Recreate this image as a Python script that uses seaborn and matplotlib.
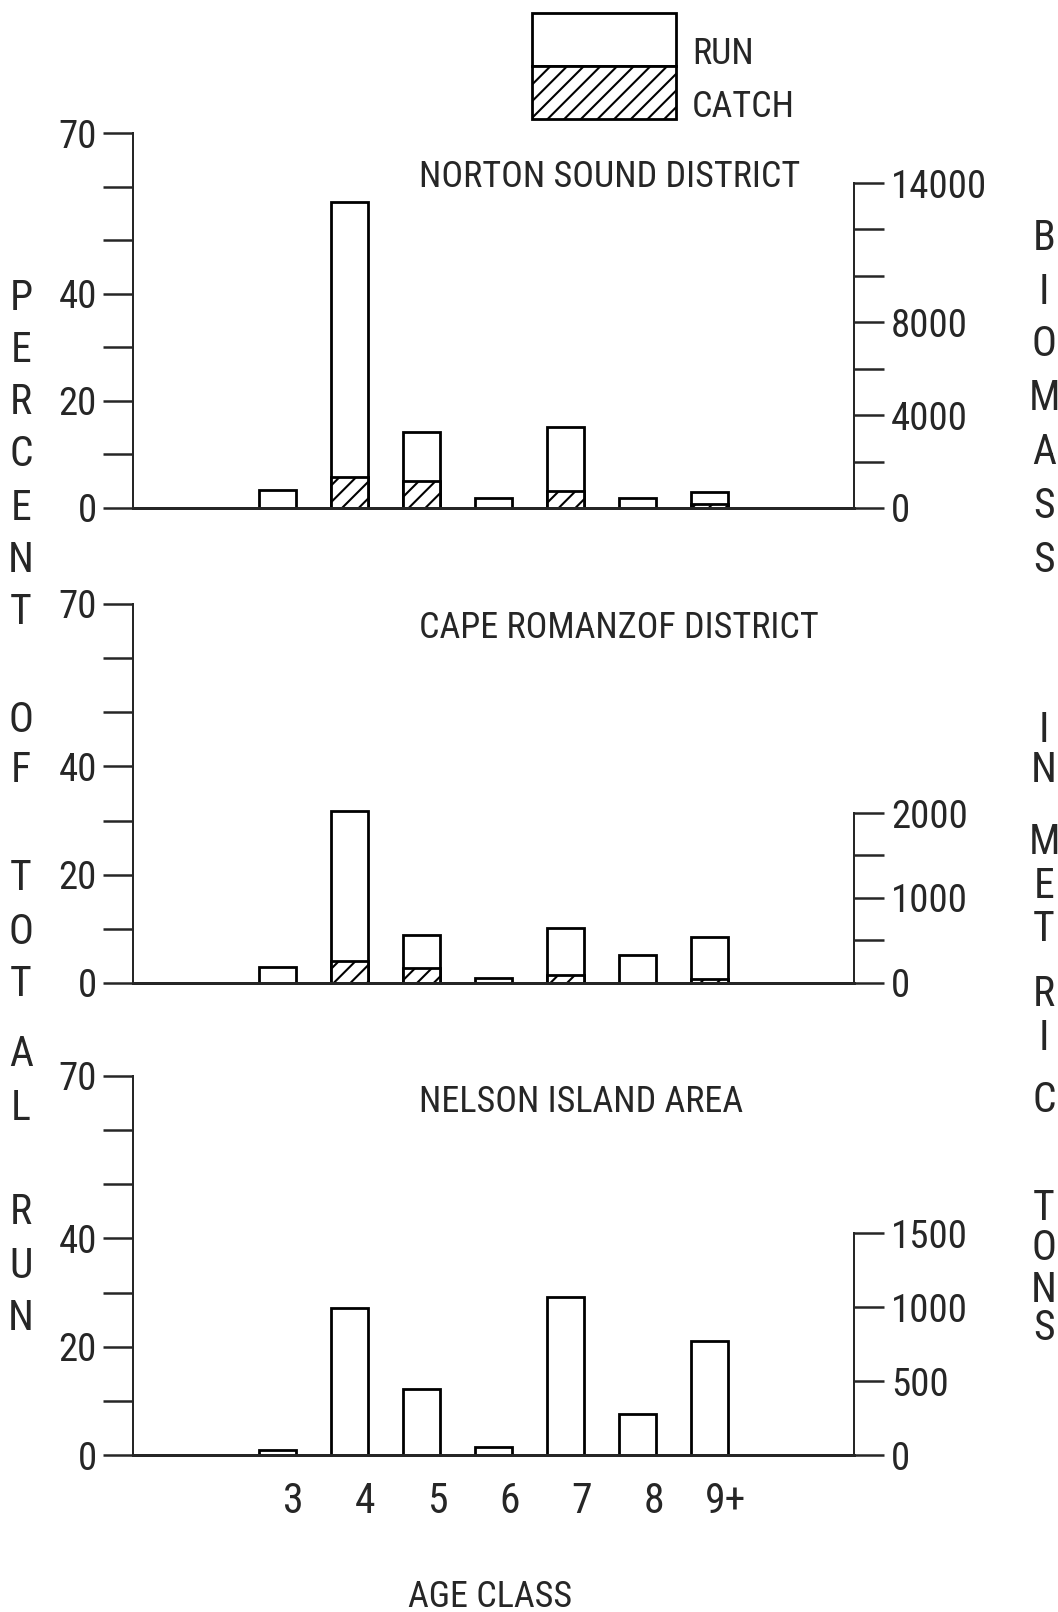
import numpy as np
import pandas as pd
import matplotlib
matplotlib.use("Agg")
import matplotlib.pyplot as plt
import matplotlib.transforms as mtransforms
from matplotlib.patches import Patch, Rectangle
from matplotlib.legend_handler import HandlerPatch
from matplotlib import font_manager
import seaborn as sns

# Donnees (pourcentage du total de la remonte)
ages = ["3", "4", "5", "6", "7", "8", "9+"]
norton_run = [3.4, 57.1, 14.2, 1.9, 15.1, 1.9, 3.0]
norton_catch = [0, 5.8, 5.0, 0, 3.2, 0, 0.7]
cape_run = [3.0, 31.8, 8.9, 0.9, 10.2, 5.2, 8.5]
cape_catch = [0, 4.1, 2.8, 0, 1.5, 0, 0.7]
nelson_run = [0.9, 27.2, 12.2, 1.4, 29.1, 7.6, 21.1]
districts = ["NORTON SOUND DISTRICT", "CAPE ROMANZOF DISTRICT", "NELSON ISLAND AREA"]

pct_ticks = [0, 10, 20, 30, 40, 50, 60, 70]
pct_labels = ["0", "", "20", "", "40", "", "", "70"]
norton_bio_ticks = [0, 2000, 4000, 6000, 8000, 10000, 12000, 14000]
norton_bio_labels = ["0", "", "4000", "", "8000", "", "", "14000"]
cape_bio_ticks = [0, 500, 1000, 1500, 2000]
cape_bio_labels = ["0", "", "1000", "", "2000"]
nelson_bio_ticks = [0, 500, 1000, 1500]
nelson_bio_labels = ["0", "500", "1000", "1500"]

left_title = "PERCENT OF TOTAL RUN"
right_title = "BIOMASS IN METRIC TONS"

# police etroite si disponible
noms = {f.name for f in font_manager.fontManager.ttflist}
sns.set_style("white")
police = "DejaVu Sans"
for cand in ["Liberation Sans Narrow", "Roboto Condensed", "Open Sans Condensed"]:
    if cand in noms:
        police = cand
        break
plt.rcParams["font.family"] = [police, "DejaVu Sans"]
plt.rcParams["font.stretch"] = "condensed"
plt.rcParams["hatch.linewidth"] = 1.5
FS = 26      # titres
FT = 28      # graduations
FL = 30      # lettres verticales

W, H = 1058, 1612
fig = plt.figure(figsize=(W / 100, H / 100), dpi=100)

def pt(v):
    return v * 72 / 100

x0, x1 = 133, 854
panels = [
    (133, 508, norton_run, norton_catch, norton_bio_ticks, norton_bio_labels, 183, 0.883),
    (604, 983, cape_run, cape_catch, cape_bio_ticks, cape_bio_labels, 813, 0.937),
    (1076, 1455, nelson_run, None, nelson_bio_ticks, nelson_bio_labels, 1233, 0.931),
]

for i, (ytop, ybot, run, catch, bt, bl, ybio, ytit) in enumerate(panels):
    ax = fig.add_axes([x0 / W, 1 - ybot / H, (x1 - x0) / W, (ybot - ytop) / H])
    df = pd.DataFrame({"age": ages, "run": run})
    sns.barplot(data=df, x="age", y="run", order=ages, color="white",
                edgecolor="black", linewidth=2, width=0.51, errorbar=None, ax=ax)
    if catch is not None:
        dfc = pd.DataFrame({"age": ages, "catch": catch})
        dfc = dfc[dfc["catch"] > 0]
        sns.barplot(data=dfc, x="age", y="catch", order=ages, color="white",
                    edgecolor="black", linewidth=2, width=0.51, errorbar=None, ax=ax)
        for b in ax.containers[-1]:
            b.set_hatch("//")
    ax.set_xlim(-2, 8)
    ax.set_ylim(0, 70)
    ax.set_yticks(pct_ticks, pct_labels)
    ax.tick_params(axis="y", direction="out", length=pt(30), width=pt(2.5),
                   pad=pt(6), labelsize=FT)
    ax.tick_params(axis="x", length=0, labelsize=FL, pad=pt(26))
    for s in ["top", "right"]:
        ax.spines[s].set_visible(False)
    ax.spines["left"].set_bounds(0, 70)
    ax.spines["left"].set_linewidth(pt(2))
    ax.spines["bottom"].set_linewidth(pt(3))
    ax.set_xlabel("")
    ax.set_ylabel("")
    ax.text(0.397, ytit, districts[i], transform=ax.transAxes, ha="left",
            va="center", fontsize=FS)
    if i == 2:
        ax.set_xticks(range(len(ages)), ages)
        dec = mtransforms.ScaledTranslation(0.16, 0, fig.dpi_scale_trans)
        for lab in ax.get_xticklabels():
            lab.set_transform(lab.get_transform() + dec)
    else:
        ax.set_xticks(range(len(ages)), [""] * len(ages))

    # axe de droite : biomasse
    frac = (ybot - ybio) / (ybot - ytop)
    axr = ax.twinx()
    axr.set_ylim(0, bt[-1] / frac)
    axr.set_yticks(bt, bl)
    axr.tick_params(axis="y", direction="out", length=pt(30), width=pt(2.5),
                    pad=pt(7), labelsize=FT)
    for s in ["top", "left", "bottom"]:
        axr.spines[s].set_visible(False)
    axr.spines["right"].set_bounds(0, bt[-1])
    axr.spines["right"].set_linewidth(pt(2))

# titres verticaux, une lettre par ligne
left_y = [298, 351, 403, 455, 508, 560, 613, 720, 771, 879, 932, 984, 1054, 1108, 1213, 1266, 1318]
right_y = [239, 292, 345, 399, 452, 506, 561, 730, 771, 843, 886, 930, 994, 1038, 1100, 1208, 1249, 1290, 1328]
for c, y in zip(left_title.replace(" ", ""), left_y):
    fig.text(21 / W, 1 - y / H, c, ha="center", va="center", fontsize=FL)
for c, y in zip(right_title.replace(" ", ""), right_y):
    fig.text(1044 / W, 1 - y / H, c, ha="center", va="center", fontsize=FL)

fig.text(490 / W, 1 - 1597 / H, "AGE CLASS", ha="center", va="center", fontsize=FS)

# legende : boites decalees vers le haut par rapport au texte
fpx = FS * 100 / 72
hh = (53 / fpx - 0.245) / 0.65
decal = pt(13.4)

def boite(legend, orig_handle, xdescent, ydescent, width, height, fontsize):
    return Rectangle((-xdescent, -ydescent + decal), width, height)

poignees = [Patch(facecolor="white", edgecolor="black", linewidth=2, label="RUN"),
            Patch(facecolor="white", edgecolor="black", linewidth=2, hatch="//", label="CATCH")]
fig.legend(handles=poignees, loc="upper left", bbox_to_anchor=(532 / W, 1 - 26.4 / H),
           handler_map={Patch: HandlerPatch(patch_func=boite)},
           frameon=False, fontsize=FS, handlelength=144 / fpx, handleheight=hh,
           handletextpad=16 / fpx, labelspacing=0, borderpad=0, borderaxespad=0)

fig.savefig("out.png", dpi=100)
